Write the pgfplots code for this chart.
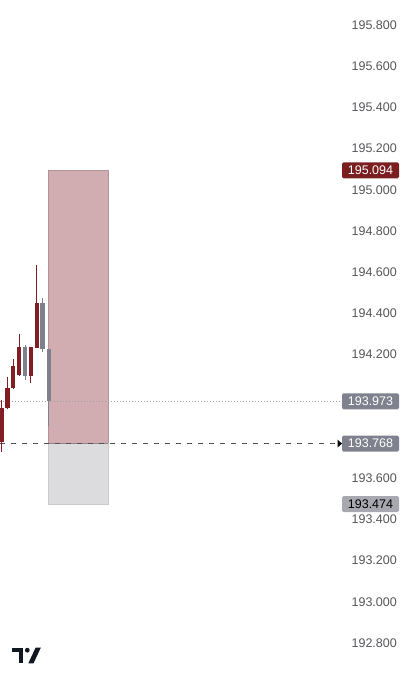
\documentclass[border=0pt]{standalone}
\usepackage{pgfplots}
\pgfplotsset{compat=1.18}
\usepackage{fontspec}
\setmainfont{Liberation Sans}
\definecolor{upc}{RGB}{128,30,36}
\definecolor{dnc}{RGB}{126,128,140}
\definecolor{tpfill}{RGB}{209,173,177}
\definecolor{slfill}{RGB}{220,220,222}
\definecolor{tplab}{RGB}{122,30,33}
\definecolor{greylab}{RGB}{128,129,142}
\definecolor{ltlab}{RGB}{168,168,176}
\definecolor{ticktxt}{RGB}{85,85,90}
\definecolor{tvlogo}{RGB}{19,23,34}
\begin{document}
\begin{tikzpicture}
\begin{axis}[
  at={(0,0)}, anchor=south west,
  scale only axis, width=408pt, height=680pt,
  xmin=0, xmax=408, ymin=192.6204, ymax=195.9214,
  axis line style={draw=none},
  xtick=\empty,
  ytick={192.8,193.0,193.2,193.4,193.6,194.2,194.4,194.6,194.8,195.0,195.2,195.4,195.6,195.8},
  major tick length=0pt,
  yticklabel pos=right,
  yticklabel style={anchor=east, xshift=-11pt, font=\fontsize{12.5}{14}\selectfont, text=ticktxt, inner sep=0pt},
  /pgf/number format/.cd, fixed, fixed zerofill, precision=3, 1000 sep={}, assume math mode=true,
  /pgfplots/.cd,
  clip=false,
]
% target / stop boxes
\addplot[fill=tpfill, draw=tpfill!85!black, line width=0.4pt] coordinates {(48,193.768) (108,193.768) (108,195.094) (48,195.094)} -- cycle;
\addplot[fill=slfill, draw=slfill!92!black, line width=0.4pt] coordinates {(48,193.474) (108,193.474) (108,193.768) (48,193.768)} -- cycle;
\addplot[draw={rgb,255:red,150;green,130;blue,134}, line width=1pt] coordinates {(48,193.768) (108,193.768)};
% last price dotted line and entry dashed line
\addplot[draw={rgb,255:red,160;green,160;blue,165}, line width=0.9pt, dash pattern=on 1pt off 2pt] coordinates {(0,193.973) (340,193.973)};
\addplot[draw={rgb,255:red,80;green,80;blue,88}, line width=1.3pt, dash pattern=on 5pt off 6pt] coordinates {(0,193.768) (338,193.768)};
% wicks
\addplot[upc, line width=1pt, unbounded coords=jump] coordinates {
 (1.5,193.725) (1.5,193.982) (1.5,nan)
 (7.3,193.934) (7.3,194.089) (7.3,nan)
 (13.2,194.031) (13.2,194.181) (13.2,nan)
 (19.1,194.094) (19.1,194.302) (19.1,nan)
 (30.9,194.060) (30.9,194.239) (30.9,nan)
 (36.8,194.234) (36.8,194.637)};
\addplot[dnc, line width=1pt, unbounded coords=jump] coordinates {
 (25.0,194.079) (25.0,194.249) (25.0,nan)
 (42.7,194.215) (42.7,194.477) (42.7,nan)
 (48.9,193.851) (48.9,194.229)};
% bodies
\addplot[upc, line width=4.5pt, unbounded coords=jump] coordinates {
 (1.5,193.774) (1.5,193.939) (1.5,nan)
 (7.3,193.939) (7.3,194.040) (7.3,nan)
 (13.2,194.040) (13.2,194.147) (13.2,nan)
 (19.1,194.099) (19.1,194.239) (19.1,nan)
 (30.9,194.094) (30.9,194.239) (30.9,nan)
 (36.8,194.234) (36.8,194.452)};
\addplot[dnc, line width=4.5pt, unbounded coords=jump] coordinates {
 (25.0,194.239) (25.0,194.094) (25.0,nan)
 (42.7,194.452) (42.7,194.229) (42.7,nan)
 (48.9,194.229) (48.9,193.973)};
\coordinate (tp) at (axis cs:370.5,195.094);
\coordinate (lp) at (axis cs:370.5,193.973);
\coordinate (en) at (axis cs:370.5,193.768);
\coordinate (sl) at (axis cs:370.5,193.474);
\end{axis}
\begin{scope}[every node/.style={rounded corners=1.5pt, minimum width=57pt, minimum height=16pt, inner sep=0pt, font=\fontsize{12.5}{14}\selectfont}]
\node[fill=tplab, text=white] at (tp) {195.094};
\node[fill=greylab, text=white] at (lp) {193.973};
\node[fill=greylab, text=white] at (en) {193.768};
\node[fill=ltlab, text=black] at (sl) {193.474};
\end{scope}
\fill[black] ([xshift=-33pt,yshift=4pt]en) -- ([xshift=-28.5pt]en) -- ([xshift=-33pt,yshift=-4pt]en) -- cycle;
% logo (pixel coordinates, y from top)
\begin{scope}[x=1pt,y=-1pt,yshift=680pt]
\fill[tvlogo] (12.3,647.7) rectangle (23.3,652.3);
\fill[tvlogo] (18.8,647.7) rectangle (23.3,663.3);
\fill[tvlogo] (27.3,650.2) circle (2.4);
\fill[tvlogo] (28.3,663.3) -- (33.5,663.3) -- (40.8,647.7) -- (35.6,647.7) -- cycle;
\end{scope}
\pgfresetboundingbox
\path (0,0) rectangle (408pt,680pt);
\end{tikzpicture}
\end{document}
